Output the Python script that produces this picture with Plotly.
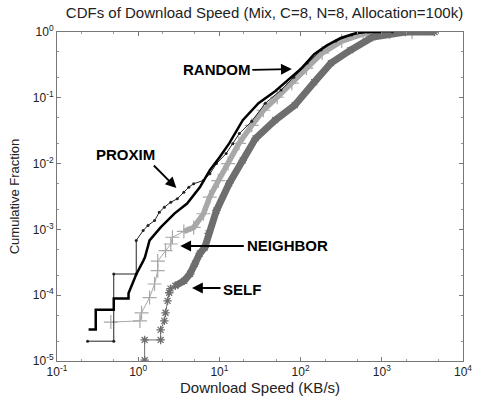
import plotly.graph_objects as go

# ---------------- data ----------------
random_x = [0.245, 0.30, 0.30, 0.50, 0.50, 0.76, 0.76, 0.87, 0.95, 1.15, 1.21, 1.38, 1.89, 2.79, 4.0, 5.74,
            7.59, 10.0, 13.2, 19.4, 30.3, 48.6, 69.7, 103, 147, 211, 312, 486, 641, 1000]
random_y = [3.0e-5, 3.0e-5, 6.0e-5, 6.0e-5, 8.9e-5, 8.9e-5, 1.07e-4, 1.66e-4, 2.1e-4, 3.3e-4, 3.76e-4,
            6.8e-4, 1.07e-3, 1.74e-3, 2.47e-3, 4.35e-3, 7.9e-3, 0.0124, 0.0203, 0.0457, 0.083, 0.126,
            0.185, 0.283, 0.46, 0.63, 0.81, 0.966, 1.0, 1.0]

proxim_x = [0.238, 0.50, 0.50, 0.946, 0.946, 1.15, 1.32, 1.59, 1.82, 2.10, 2.52, 3.03, 3.65, 4.2, 4.82,
            6.36, 7.64, 9.2, 12.1, 14.6, 17.6, 25.0, 36.8, 57.4, 82.4, 121, 179, 272, 424, 678, 1350]
proxim_y = [2.0e-5, 2.0e-5, 2.1e-4, 2.1e-4, 6.8e-4, 9.6e-4, 1.15e-3, 1.36e-3, 1.82e-3, 2.18e-3, 2.59e-3,
            2.92e-3, 3.68e-3, 4.39e-3, 4.94e-3, 5.55e-3, 7.0e-3, 0.010, 0.0142, 0.020, 0.0286, 0.044,
            0.0828, 0.131, 0.206, 0.337, 0.532, 0.729, 0.90, 1.0, 1.0]

neighbor_x = [0.46, 1.05, 1.10, 1.38, 1.59, 1.74, 1.74, 2.17, 2.52, 2.64, 3.65, 4.82, 6.37, 7.6, 9.7,
              12.8, 17.4, 25.0, 34.8, 51.4, 78, 118, 184, 321, 590, 1250, 2360]
neighbor_y = [3.9e-5, 4.07e-5, 5.4e-5, 9.2e-5, 1.48e-4, 2.36e-4, 3.3e-4, 4.77e-4, 6.0e-4, 7.6e-4,
              9.3e-4, 1.07e-3, 1.73e-3, 3.1e-3, 5.5e-3, 0.010, 0.0203, 0.0382, 0.0647, 0.102, 0.167,
              0.283, 0.479, 0.729, 0.933, 1.0, 1.0]

self_x = [1.2, 1.2, 1.89, 1.89, 2.10, 2.17, 2.30, 2.41, 2.50, 2.87, 3.68, 4.35, 5.0, 5.74, 6.6, 7.37,
          9.2, 13.2, 19.4, 27.9, 48.6, 84.7, 147, 236, 411, 776, 1950, 4470]
self_y = [1.03e-5, 2.09e-5, 2.09e-5, 2.97e-5, 4.07e-5, 5.4e-5, 8.2e-5, 1.09e-4, 1.26e-4, 1.39e-4,
          1.66e-4, 2.12e-4, 3.0e-4, 4.3e-4, 5.3e-4, 8.7e-4, 1.94e-3, 5.0e-3, 0.0112, 0.0242, 0.0457,
          0.0773, 0.173, 0.337, 0.53, 0.84, 1.0, 1.0]

x_tickvals = [0.1, 1, 10, 100, 1000, 10000]
x_ticktext = ["10<sup>-1</sup>", "10<sup>0</sup>", "10<sup>1</sup>", "10<sup>2</sup>", "10<sup>3</sup>", "10<sup>4</sup>"]
y_tickvals = [1e-5, 1e-4, 1e-3, 1e-2, 1e-1, 1]
y_ticktext = ["10<sup>-5</sup>", "10<sup>-4</sup>", "10<sup>-3</sup>", "10<sup>-2</sup>", "10<sup>-1</sup>", "10<sup>0</sup>"]

LIGHT = "#a8a8a8"
DARK = "#6e6e6e"
FONT = "Liberation Sans, Arial, sans-serif"

fig = go.Figure()

# NEIGHBOR: thin line with + markers, thick band in upper part
n_thick = [i for i, v in enumerate(neighbor_y) if v >= 9e-4]
fig.add_trace(go.Scatter(x=[neighbor_x[i] for i in n_thick], y=[neighbor_y[i] for i in n_thick],
                         mode="lines", line=dict(color=LIGHT, width=5.5), hoverinfo="skip"))
fig.add_trace(go.Scatter(x=neighbor_x, y=neighbor_y, mode="lines+markers", line=dict(color=LIGHT, width=1),
                         marker=dict(symbol="cross-thin", size=10, line=dict(color=LIGHT, width=1.2), color=LIGHT)))

# SELF: thin line with star markers, thick band in upper part
s_thick = [i for i, v in enumerate(self_y) if v >= 1.3e-4]
fig.add_trace(go.Scatter(x=[self_x[i] for i in s_thick], y=[self_y[i] for i in s_thick],
                         mode="lines", line=dict(color=DARK, width=7), hoverinfo="skip"))
fig.add_trace(go.Scatter(x=self_x, y=self_y, mode="lines+markers", line=dict(color=DARK, width=1),
                         marker=dict(symbol="asterisk-open", size=7, line=dict(color=DARK, width=1.3), color=DARK)))

# PROXIM: thin black line with dots
fig.add_trace(go.Scatter(x=proxim_x, y=proxim_y, mode="lines+markers", line=dict(color="#222", width=1),
                         marker=dict(symbol="circle", size=3, color="#222")))

# RANDOM: thick black line
fig.add_trace(go.Scatter(x=random_x, y=random_y, mode="lines", line=dict(color="black", width=2.5)))

W, H = 482, 403
L, R, T, B = 57, 10, 32, 42
pw, ph = W - L - R, H - T - B


def px(xp, yp):
    return (xp - L) / pw, (H - B - yp) / ph


annots = []
lab_font = dict(family=FONT, size=15, color="black")
for txt, (cx, cy) in [("<b>RANDOM</b>", (221, 70)), ("<b>PROXIM</b>", (127, 154)),
                      ("<b>NEIGHBOR</b>", (293, 246)), ("<b>SELF</b>", (246, 289))]:
    ax_, ay_ = px(cx, cy)
    annots.append(dict(x=ax_, y=ay_, xref="paper", yref="paper", text=txt, showarrow=False, font=lab_font,
                       xanchor="center", yanchor="middle"))

for (tx, ty), (sx, sy) in [((297, 69), (256, 70)), ((179, 188), (155, 164)),
                           ((183, 246), (248, 246)), ((195, 288), (225, 288))]:
    xx, yy = px(tx, ty)
    annots.append(dict(x=xx, y=yy, xref="paper", yref="paper", text="", showarrow=True,
                       ax=sx - tx, ay=sy - ty, arrowhead=2, arrowsize=1.2, arrowwidth=1.8, arrowcolor="black"))

axis_common = dict(type="log", showgrid=False, zeroline=False, showline=True, linecolor="#777", linewidth=1,
                   mirror="ticks", ticks="inside", ticklen=4, tickcolor="#777",
                   tickfont=dict(family=FONT, size=12, color="#222"),
                   minor=dict(ticks="inside", ticklen=2, tickcolor="#999", showgrid=False))

fig.update_layout(
    width=W, height=H, margin=dict(l=L, r=R, t=T, b=B), plot_bgcolor="white", paper_bgcolor="white",
    showlegend=False,
    title=dict(text="CDFs of Download Speed (Mix, C=8, N=8, Allocation=100k)", x=(L + pw / 2) / W, xanchor="center",
               y=1 - 13 / H, yanchor="middle", font=dict(family=FONT, size=15, color="#222")),
    xaxis=dict(axis_common, range=[-1, 4], tickvals=x_tickvals, ticktext=x_ticktext,
               title=dict(text="Download Speed (KB/s)", standoff=2, font=dict(family=FONT, size=15, color="#222"))),
    yaxis=dict(axis_common, range=[-5, 0], tickvals=y_tickvals, ticktext=y_ticktext,
               title=dict(text="Cumulative Fraction", standoff=10, font=dict(family=FONT, size=13, color="#222"))),
    annotations=annots,
)

fig.write_html("out.html")
